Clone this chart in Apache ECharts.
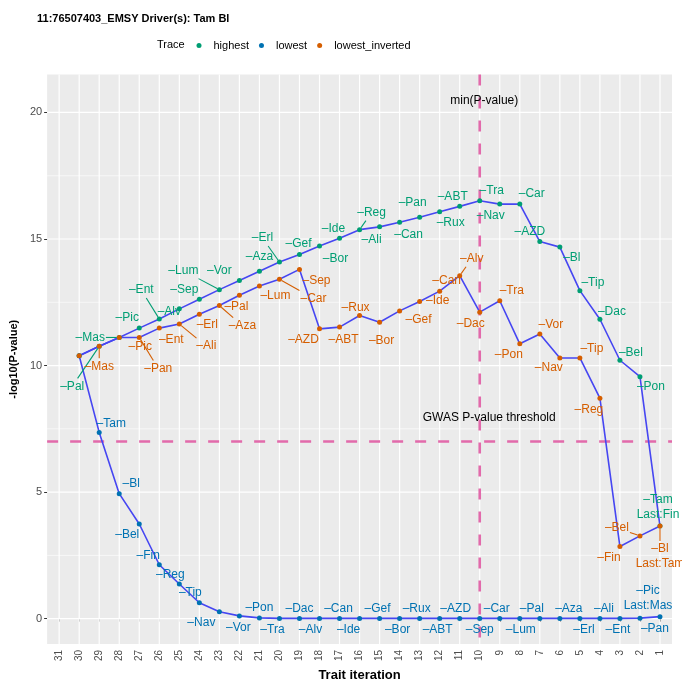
<!DOCTYPE html>
<html>
<head>
<meta charset="utf-8">
<script src="https://cdn.jsdelivr.net/npm/echarts@6/dist/echarts.min.js"></script>
<style>
html, body { margin: 0; padding: 0; background: #fff; }
#chart { width: 682px; height: 687px; }
</style>
</head>
<body>
<div id="chart"></div>
<script>
// tick labels of the x axis (trait iteration, drawn right-to-left)
const iterations = [31, 30, 29, 28, 27, 26, 25, 24, 23, 22, 21, 20, 19, 18, 17, 16, 15, 14, 13, 12, 11, 10, 9, 8, 7, 6, 5, 4, 3, 2, 1]
const yTicks = [0, 5, 10, 15, 20]
const yMinor = [2.5, 7.5, 12.5, 17.5]

// iteration of each point of a trace
const traceIter = [30, 29, 28, 27, 26, 25, 24, 23, 22, 21, 20, 19, 18, 17, 16, 15, 14, 13, 12, 11, 10, 9, 8, 7, 6, 5, 4, 3, 2, 1]

// -log10(P) of each trace
const highestP = [10.39, 10.76, 11.11, 11.48, 11.84, 12.24, 12.62, 13.00, 13.36, 13.73, 14.09, 14.39, 14.72, 15.03, 15.37, 15.48, 15.66, 15.86, 16.08, 16.29, 16.51, 16.38, 16.38, 14.90, 14.68, 12.96, 11.83, 10.21, 9.56, 3.66]
const lowestP = [10.39, 7.36, 4.94, 3.74, 2.13, 1.37, 0.63, 0.27, 0.11, 0.03, 0.01, 0.01, 0.01, 0.01, 0.01, 0.01, 0.01, 0.01, 0.01, 0.01, 0.01, 0.01, 0.01, 0.01, 0.01, 0.01, 0.01, 0.01, 0.02, 0.08]
const invertedP = [10.39, 10.76, 11.11, 11.11, 11.48, 11.64, 12.03, 12.37, 12.78, 13.14, 13.41, 13.80, 11.45, 11.52, 11.98, 11.71, 12.16, 12.53, 12.94, 13.55, 12.11, 12.56, 10.86, 11.25, 10.30, 10.30, 8.71, 2.85, 3.27, 3.66]

// trait removed at each iteration, and the one left at the end
const highestRemoved = ['', 'Pal', 'Mas', 'Pic', 'Ent', 'Alv', 'Sep', 'Lum', 'Vor', 'Aza', 'Erl', 'Gef', 'Bor', 'Ide', 'Reg', 'Ali', 'Can', 'Pan', 'Rux', 'ABT', 'Tra', 'Nav', 'Car', 'AZD', 'Bl', 'Tip', 'Dac', 'Bel', 'Pon', 'Tam']
const highestLast = 'Fin'
const lowestRemoved = ['', 'Tam', 'Bl', 'Bel', 'Fin', 'Reg', 'Tip', 'Nav', 'Vor', 'Pon', 'Tra', 'Dac', 'Alv', 'Can', 'Ide', 'Gef', 'Bor', 'Rux', 'ABT', 'AZD', 'Sep', 'Car', 'Lum', 'Pal', 'Aza', 'Erl', 'Ali', 'Ent', 'Pan', 'Pic']
const lowestLast = 'Mas'
const invertedRemoved = ['', 'Mas', 'Pic', 'Pan', 'Ent', 'Ali', 'Erl', 'Aza', 'Pal', 'Lum', 'Car', 'Sep', 'AZD', 'ABT', 'Rux', 'Bor', 'Gef', 'Ide', 'Can', 'Alv', 'Dac', 'Tra', 'Pon', 'Vor', 'Nav', 'Tip', 'Reg', 'Fin', 'Bel', 'Bl']
const invertedLast = 'Tam'

const gwasThreshold = 7

// label placement (px from the point, third item = draw segment)
const highestOffsets = [null, [-27, 40, 1], [-29, 0, 1], [-12, -10], [-18, -29, 1], [-10, 3], [-15, -10], [-36, -19, 1], [-20, -10], [0, -14], [-17, -24, 1],
  [-1, -11], [16, 13], [-6, -10], [12, -17, 1], [-8, 13], [9, 12], [-7, -15], [11, 11], [-7, -10], [12, -10],
  [-9, 12], [12, -10], [-10, -10], [12, 11], [13, -8], [12, -8], [11, -8], [11, 10], [-2, -19]]
const lowestOffsets = [null, [12, -9], [12, -10], [-12, 11], [-11, -9], [-9, -9], [-9, -10], [-18, 11], [-1, 12], [0, -10], [-7, 11],
  [0, -10], [-9, 11], [-1, -10], [-11, 11], [-2, -10], [-2, 11], [-3, -10], [-2, 11], [-4, -10], [0, 11],
  [-3, -10], [1, 11], [-8, -10], [9, -10], [4, 11], [4, -10], [-2, 11], [15, 11], [-12, -18]]
const invertedOffsets = [null, [0, 20, 1], [21, 9], [19, 31, 1], [12, 12], [27, 22, 1], [8, 11], [23, 20, 1], [-3, 11], [16, 10], [34, 19, 1],
  [17, 11], [-16, 11], [4, 13], [-4, -8], [2, 18], [19, 9], [18, -1], [7, -10], [12, -17, 1], [-9, 12],
  [12, -10], [-11, 11], [11, -9], [-11, 10], [12, -9], [-11, 11], [-11, 11], [-23, -8, 1], [0, 30, 1]]

const colors = { highest: '#009E73', lowest: '#0072B2', lowest_inverted: '#D55E00' }
const pathColor = '#4646f2'
const refColor = '#e26aab'
const labelFont = '12px "Liberation Sans", Arial, sans-serif'

let container = document.getElementById('chart')
var myChart = echarts.init(container)

var measure = document.createElement('canvas').getContext('2d')
function textSize (text, font) {
  measure.font = font
  var lines = text.split('\n')
  var w = Math.max.apply(null, lines.map(l => measure.measureText(l).width))
  return [w, lines.length * 14]
}

function pairs (values) {
  return traceIter.map((it, i) => [it, values[i]])
}

function lineSeries (name, values) {
  return {
    type: 'line',
    name: name,
    data: pairs(values),
    symbol: 'circle',
    symbolSize: 5,
    itemStyle: { color: colors[name] },
    lineStyle: { color: pathColor, width: 1.6 },
    z: 5,
    silent: true,
    animation: false
  }
}

function labelSeries (name, values, removed, last, offsets) {
  return {
    type: 'custom',
    name: name + ' labels',
    coordinateSystem: 'cartesian2d',
    data: pairs(values),
    encode: { x: 0, y: 1 },
    z: 6,
    silent: true,
    animation: false,
    renderItem: function (params, api) {
      var i = params.dataIndex
      var off = offsets[i]
      if (!off) return null
      var text = '\u2013' + removed[i]
      if (i === removed.length - 1) text += '\nLast:' + last
      var p = api.coord([api.value(0), api.value(1)])
      var c = [p[0] + off[0], p[1] + off[1]]
      var children = [{
        type: 'text',
        style: {
          x: c[0], y: c[1], text: text, fill: colors[name], font: labelFont,
          align: 'center', verticalAlign: 'middle', lineHeight: 15
        }
      }]
      if (off[2]) {
        var size = textSize(text, labelFont)
        var dx = c[0] - p[0], dy = c[1] - p[1]
        var s = Math.max(Math.abs(dx) / (size[0] / 2 + 1), Math.abs(dy) / (size[1] / 2 + 1))
        if (s > 1) {
          var len = Math.sqrt(dx * dx + dy * dy)
          children.push({
            type: 'line',
            shape: { x1: p[0] + dx / len * 2.5, y1: p[1] + dy / len * 2.5, x2: c[0] - dx / s, y2: c[1] - dy / s },
            style: { stroke: colors[name], lineWidth: 1.1 }
          })
        }
      }
      return { type: 'group', children: children }
    }
  }
}

// iteration with the smallest P-value
var best = highestP.indexOf(Math.max.apply(null, highestP))
var minIter = traceIter[best]

const annotationX = [minIter, minIter]
const annotationY = [20.47, 7.95]
const annotationText = ['min(P-value)', 'GWAS P-value threshold']
const annotationShift = [4.5, 9.5]

function gridSeries (data, vertical, width) {
  return {
    type: 'custom',
    coordinateSystem: 'cartesian2d',
    data: data,
    z: 1,
    silent: true,
    animation: false,
    renderItem: function (params, api) {
      var cs = params.coordSys
      var p = api.coord([api.value(0), api.value(1)])
      var shape = vertical
        ? { x1: p[0], y1: cs.y, x2: p[0], y2: cs.y + cs.height }
        : { x1: cs.x, y1: p[1], x2: cs.x + cs.width, y2: p[1] }
      return { type: 'line', shape: shape, style: { stroke: '#ffffff', lineWidth: width } }
    }
  }
}

myChart.setOption({
  animation: false,
  title: [
    { text: '11:76507403_EMSY Driver(s): Tam Bl', left: 37, top: 13, padding: 0,
      textStyle: { fontSize: 11, fontWeight: 'bold', color: '#000', fontFamily: 'Liberation Sans' } },
    { text: 'Trace', left: 157, top: 39, padding: 0,
      textStyle: { fontSize: 11, fontWeight: 'normal', color: '#000', fontFamily: 'Liberation Sans' } }
  ],
  legend: {
    data: ['highest', 'lowest', 'lowest_inverted'],
    icon: 'circle',
    left: 196.5,
    top: 40,
    padding: 0,
    itemWidth: 5,
    itemHeight: 5,
    itemGap: 10,
    selectedMode: false,
    textStyle: { fontSize: 11, color: '#000', fontFamily: 'Liberation Sans', padding: [0, 0, 0, 7] }
  },
  grid: {
    left: 46.5, right: 10, top: 74.5, bottom: 38.8,
    show: true, backgroundColor: '#EBEBEB', borderWidth: 0
  },
  xAxis: {
    type: 'value',
    min: 0.4,
    max: 31.6,
    inverse: true,
    name: 'Trait iteration',
    nameLocation: 'middle',
    nameGap: 24,
    nameTextStyle: { fontSize: 13, fontWeight: 'bold', color: '#000', fontFamily: 'Liberation Sans' },
    axisLine: { show: false },
    splitLine: { show: false },
    axisTick: { show: true, customValues: iterations, length: 3, lineStyle: { color: '#333' } },
    axisLabel: { customValues: iterations, rotate: 90, fontSize: 10, color: '#4D4D4D', margin: 6, fontFamily: 'Liberation Sans' }
  },
  yAxis: {
    type: 'value',
    min: -1,
    max: 21.5,
    name: '-log10(P-value)',
    nameLocation: 'middle',
    nameGap: 26,
    nameRotate: 90,
    nameTextStyle: { fontSize: 11, fontWeight: 'bold', color: '#000', fontFamily: 'Liberation Sans' },
    axisLine: { show: false },
    splitLine: { show: false },
    axisTick: { show: true, customValues: yTicks, length: 3, lineStyle: { color: '#333' } },
    axisLabel: { customValues: yTicks, fontSize: 11, color: '#4D4D4D', margin: 5, fontFamily: 'Liberation Sans' }
  },
  series: [
    gridSeries(yMinor.map(v => [10, v]), false, 0.6),
    gridSeries(yTicks.map(v => [10, v]), false, 1.2),
    gridSeries(iterations.map(v => [v, 0]), true, 1.2),
    {
      type: 'custom',
      coordinateSystem: 'cartesian2d',
      data: [[minIter, gwasThreshold]],
      z: 3,
      silent: true,
      animation: false,
      renderItem: function (params, api) {
        var cs = params.coordSys
        var p = api.coord([api.value(0), api.value(1)])
        var style = { stroke: refColor, lineWidth: 2.6, lineDash: [11, 12] }
        return {
          type: 'group',
          children: [
            { type: 'line', shape: { x1: cs.x, y1: p[1], x2: cs.x + cs.width, y2: p[1] }, style: style },
            { type: 'line', shape: { x1: p[0], y1: cs.y, x2: p[0], y2: cs.y + cs.height }, style: style }
          ]
        }
      }
    },
    lineSeries('highest', highestP),
    lineSeries('lowest', lowestP),
    lineSeries('lowest_inverted', invertedP),
    labelSeries('highest', highestP, highestRemoved, highestLast, highestOffsets),
    labelSeries('lowest', lowestP, lowestRemoved, lowestLast, lowestOffsets),
    labelSeries('lowest_inverted', invertedP, invertedRemoved, invertedLast, invertedOffsets),
    {
      type: 'custom',
      coordinateSystem: 'cartesian2d',
      data: annotationX.map((x, i) => [x, annotationY[i]]),
      z: 7,
      silent: true,
      animation: false,
      renderItem: function (params, api) {
        var i = params.dataIndex
        var p = api.coord([api.value(0), api.value(1)])
        return {
          type: 'text',
          style: {
            x: p[0] + annotationShift[i], y: p[1], text: annotationText[i], fill: '#000',
            font: '12px "Liberation Sans", Arial, sans-serif', align: 'center', verticalAlign: 'middle'
          }
        }
      }
    }
  ]
})
</script>
</body>
</html>
